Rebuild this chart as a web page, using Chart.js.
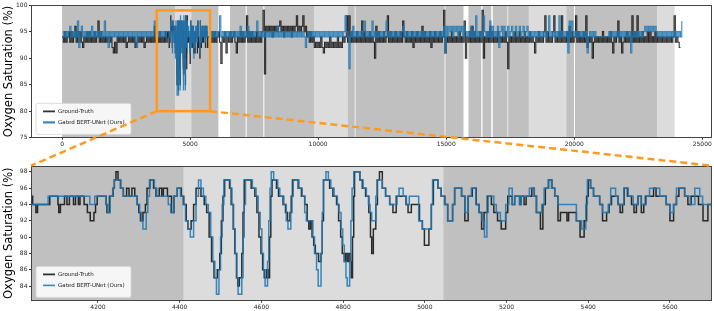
<!DOCTYPE html>
<html><head><meta charset="utf-8">
<script src="https://cdn.jsdelivr.net/npm/chart.js@4.4.1/dist/chart.umd.min.js"></script>
<style>
html,body{margin:0;padding:0;background:#fff;}
#wrap{position:relative;width:714px;height:311px;overflow:hidden;background:#fff;}
canvas{position:absolute;left:0;}
#top{top:0;width:714px;height:152px;}
#bottom{top:152px;width:714px;height:159px;}
#overlay{top:0;width:714px;height:311px;pointer-events:none;}
</style></head><body>
<div id="wrap">
<canvas id="top" width="714" height="152"></canvas>
<canvas id="bottom" width="714" height="159"></canvas>
<canvas id="overlay" width="714" height="311"></canvas>
</div>
<script>
// ---------------- DATA ----------------
const seriesLabels = ['Ground-Truth', 'Gated BERT-UNet (Ours)'];
const yAxisLabel = 'Oxygen Saturation (%)';

// overview (top panel) samples, one every 50 time units
const overviewStep = 50;
const overviewAStart = 0;
const gtOverviewA = [94,93,95,93,94,95,93,95,93,94,96,93,95,93,95,93,92,94,93,95,
93,95,93,94,93,95,93,94,97,93,95,93,94,93,94,93,94,93,94,92,
91,93,91,94,93,94,93,94,93,94,92,93,94,93,94,93,94,92,93,94,
93,94,93,94,92,93,94,93,94,93,94,93,96,93,94,93,95,93,94,93,94];
const predOverviewA = [94,95,94,95,94,95,96,94,95,94,95,94,97,92,95,96,94,95,94,95,
94,95,94,96,94,95,94,95,94,95,94,95,94,97,94,95,92,95,94,95,
94,95,94,95,94,95,94,95,94,95,94,95,94,95,94,95,94,95,92,95,
94,95,94,95,94,95,94,95,94,95,94,95,97,94,95,94,95,94,95,94,95];
const overviewBStart = 5750;
const gtOverviewB = [
94,93,95,93,95,93,94,95,93,89,94,93,95,91,94,93,95,93,94,95,
93,91,94,93,95,93,95,93,94,98,93,95,93,95,93,94,93,95,93,94,
93,95,99,87,96,95,96,95,96,94,96,95,96,95,96,97,95,96,94,96,
95,96,95,96,94,96,95,96,98,95,96,95,96,98,95,96,94,95,93,95,
93,94,92,93,92,93,92,94,92,91,93,92,93,92,94,92,93,92,93,92,
94,92,93,92,94,93,94,98,93,98,93,95,93,94,93,95,93,94,93,97,
93,95,93,94,93,95,93,94,93,90,96,93,95,93,94,93,95,93,94,98,
93,95,93,94,93,95,93,94,93,95,93,97,94,93,95,93,94,93,95,92,
94,93,95,93,94,93,96,93,95,93,94,93,95,92,94,93,95,93,94,93,
95,93,94,99,91,94,93,94,93,95,93,94,93,94,93,95,93,94,93,97,
90,94,93,95,93,96,93,95,93,94,93,95,93,99,90,94,93,95,93,96,
93,95,93,94,93,95,93,94,93,94,93,95,93,88,94,93,94,93,95,93,
94,93,95,93,94,93,95,93,94,93,95,93,94,93,91,94,93,95,93,94,
93,95,98,93,95,93,94,93,95,98,93,94,93,95,93,98,93,94,93,95,
93,96,93,95,93,94,98,93,95,93,94,93,95,93,98,92,94,93,94,90,
93,94,93,94,93,94,93,95,93,94,93,94,93,95,93,91,94,93,94,97,
93,94,91,93,94,93,95,93,94,93,98,93,95,93,98,93,94,93,95,93,
94,93,95,93,95,93,94,93,95,93,94,93,94,93,94,93,94,93,94,93,
94,93,94,98,93,94,93,92,92];
const predOverviewB = [
94,95,94,95,94,95,94,95,98,94,95,94,95,94,95,94,95,94,95,94,
95,94,95,94,96,94,95,94,95,94,96,94,95,94,95,94,95,97,94,95,
94,95,94,95,94,95,94,95,94,95,94,95,94,96,94,95,94,95,94,95,
94,95,94,95,94,95,94,95,94,95,94,95,94,95,94,92,94,95,94,95,
94,95,94,95,94,95,94,95,94,95,94,95,94,95,94,95,94,95,94,95,
94,95,94,95,94,95,98,95,94,88,95,94,96,94,95,94,95,94,95,94,
95,97,94,95,94,95,94,97,94,95,94,95,94,95,94,95,94,95,97,94,
95,94,95,94,95,94,95,94,95,94,95,96,94,95,94,95,94,95,94,95,
94,95,94,95,94,95,94,95,94,95,94,95,94,95,94,95,94,95,94,95,
94,95,94,96,91,96,94,96,95,96,94,96,95,96,94,96,95,96,94,96,
95,94,95,94,96,94,95,94,98,94,95,94,95,94,98,95,94,95,94,97,
94,96,94,95,94,96,92,95,96,94,96,95,94,96,94,95,96,94,95,96,
94,95,96,94,95,96,94,95,96,94,95,94,95,94,95,94,95,94,95,94,
95,94,95,94,95,98,94,95,94,95,94,95,94,98,94,95,94,95,94,95,
91,97,94,97,95,94,95,94,95,94,95,94,95,94,95,91,94,95,94,95,
94,95,94,94,94,94,94,94,94,94,94,94,95,94,95,94,95,94,95,94,
95,94,95,94,95,94,95,94,95,91,94,95,94,95,94,95,94,95,94,95,
96,95,96,95,96,95,96,95,96,95,94,95,94,95,94,95,94,95,94,95,
94,95,94,95,94,95,94,95,94,97];

// detailed change points (bottom panel window)
const gtZoomTime = [4030,4040,4048,4052,4082,4102,4104,4108,4118,4124,4130,4140,4145,4152,4156,4166,4174,4181,4190,4194,4198,4220,4222,4228,4237,4240,4244,4249,4255,4262,4270,4276,4283,4290,4296,4300,4304,4310,4316,4320,4327,4336,4342,4350,4356,4360,4370,4380,4386,4394,4404,4410,4416,4420,4428,4434,4440,4452,4460,4466,4472,4478,4484,4492,4498,4502,4506,4510,4522,4526,4531,4535,4539,4542,4546,4552,4555,4558,4575,4584,4589,4594,4599,4603,4607,4613,4616,4620,4623,4626,4637,4642,4653,4659,4664,4670,4673,4676,4690,4698,4706,4712,4716,4720,4724,4728,4732,4740,4746,4749,4752,4767,4775,4784,4789,4794,4798,4803,4806,4810,4814,4818,4820,4823,4826,4828,4841,4847,4855,4863,4867,4870,4874,4880,4884,4889,4896,4904,4914,4922,4930,4954,4959,4967,4987,4994,4999,5010,5016,5021,5032,5040,5049,5056,5068,5073,5090,5098,5106,5116,5126,5133,5139,5145,5153,5163,5169,5178,5187,5198,5203,5214,5220,5232,5236,5243,5248,5262,5268,5273,5283,5289,5295,5303,5311,5318,5326,5332,5348,5352,5371,5380,5390,5396,5400,5406,5413,5428,5435,5445,5451,5457,5473,5478,5484,5488,5496,5506,5512,5518,5522,5530,5536,5540,5560,5566,5591,5600,5609,5616,5622,5636,5644,5652,5670,5681,5693,5705];
const gtZoomValue = [95,94,93,94,95,94,93,94,95,94,95,94,95,94,95,94,93,92,93,94,95,94,93,95,96,97,98,97,96,95,96,95,96,95,94,93,92,93,94,96,97,96,95,96,95,96,95,93,95,96,95,94,92,91,92,94,96,95,94,93,90,87,85,86,88,92,95,97,96,94,91,88,85,84,85,88,93,97,96,95,93,90,88,86,85,86,85,90,95,97,96,95,94,93,92,93,95,97,96,95,94,92,91,92,90,89,88,87,88,92,97,96,95,94,92,90,88,87,88,87,88,87,85,90,95,98,97,96,95,93,90,88,91,94,97,98,96,95,94,93,95,94,93,94,92,91,89,91,94,97,96,95,94,92,94,96,95,92,95,96,94,93,91,93,95,94,93,92,91,93,95,94,95,94,95,94,95,96,95,93,91,94,96,97,96,95,92,93,92,93,92,90,92,95,97,96,95,94,92,93,94,95,94,93,94,96,95,94,93,94,95,93,94,95,96,95,94,92,94,95,96,95,94,95,94,92,94,94];
const predZoomTime = [4030,4078,4180,4192,4220,4224,4230,4236,4240,4256,4262,4296,4302,4306,4310,4318,4322,4326,4338,4344,4372,4378,4386,4394,4402,4408,4414,4420,4426,4434,4440,4446,4452,4458,4464,4470,4476,4481,4486,4490,4496,4500,4504,4508,4524,4528,4532,4536,4540,4543,4552,4555,4558,4561,4578,4587,4592,4597,4601,4605,4609,4615,4618,4621,4624,4630,4640,4645,4655,4661,4665,4672,4675,4678,4692,4700,4706,4710,4726,4730,4735,4739,4746,4749,4752,4758,4764,4770,4778,4786,4790,4795,4799,4803,4807,4810,4816,4819,4822,4826,4841,4849,4857,4862,4866,4870,4880,4883,4896,4904,4914,4932,4937,4947,4955,4962,4985,4994,5016,5019,5032,5040,5048,5056,5068,5073,5090,5098,5106,5114,5125,5133,5140,5146,5152,5155,5169,5175,5185,5198,5206,5214,5220,5232,5236,5256,5268,5274,5286,5292,5302,5310,5318,5326,5371,5384,5394,5398,5405,5413,5428,5435,5449,5455,5467,5473,5487,5498,5510,5522,5530,5542,5550,5575,5591,5600,5609,5616,5636,5650,5661,5673,5680,5705];
const predZoomValue = [94,95,94,95,94,93,95,96,97,96,95,94,93,92,91,93,95,97,96,95,94,93,95,96,95,94,92,91,90,92,95,97,96,95,94,93,90,87,85,83,86,90,94,97,96,94,91,88,85,83,85,90,94,97,96,95,93,91,88,86,84,87,92,96,98,97,96,95,94,92,91,93,95,97,96,95,93,92,90,88,86,84,88,93,97,98,97,96,95,94,93,91,89,87,85,84,87,92,96,98,97,96,95,94,93,92,95,97,96,95,94,95,96,95,94,95,92,91,94,97,96,95,94,92,94,96,95,93,95,96,94,93,92,90,93,95,94,93,92,94,96,94,95,94,95,96,95,93,94,96,97,96,95,94,92,91,94,97,96,95,94,93,94,96,95,94,96,95,94,95,94,95,96,95,94,93,94,96,95,94,96,95,94,94];

// background segments (time ranges)
const spanStart = [0,4410,5045,6560,7210,7900,9840,11060,11080,11150,11430,11480,14940,14980,15870,16420,16820,17380,17420,18230,19690,20030,23250];
const spanEnd   = [4410,5045,6105,7170,7860,9840,11060,11080,11150,11430,11480,14940,14980,15675,16370,16760,17380,17420,18230,19690,19990,23250,23920];
const spanKind  = ['dark','light','dark','dark','dark','dark','light','dark','light','dark','light','dark','light','dark','dark','dark','dark','light','dark','light','dark','dark','light'];

// axes
const topXRange = [-1212, 25380];
const topYRange = [75, 100];
const topXTicks = [0, 5000, 10000, 15000, 20000, 25000];
const topYTicks = [75, 80, 85, 90, 95, 100];
const zoomXRange = [4036, 5703];
const zoomYRange = [82.2, 98.75];
const zoomXTicks = [4200, 4400, 4600, 4800, 5000, 5200, 5400, 5600];
const zoomYTicks = [84, 86, 88, 90, 92, 94, 96, 98];
const zoomBoxX = [3700, 5780];
const zoomBoxY = [80, 99];

// ---------------- STYLE ----------------
const spanColors = {dark: '#c0c0c0', light: '#dcdcdc'};
const gtColor = 'rgba(0,0,0,0.8)';
const predColor = 'rgba(31,119,180,0.88)';
const orange = '#ff9a1f';
const FONT = 'DejaVu Sans';

// ---------------- BUILD ----------------
function overviewPoints(startA, arrA, zt, zv, startB, arrB) {
  const pts = [];
  arrA.forEach((v, i) => pts.push({x: startA + i * overviewStep, y: v}));
  zt.forEach((t, i) => pts.push({x: t, y: zv[i]}));
  arrB.forEach((v, i) => pts.push({x: startB + i * overviewStep, y: v}));
  return pts;
}
const gtTop = overviewPoints(overviewAStart, gtOverviewA, gtZoomTime, gtZoomValue, overviewBStart, gtOverviewB);
const predTop = overviewPoints(overviewAStart, predOverviewA, predZoomTime, predZoomValue, overviewBStart, predOverviewB);
const gtZoom = gtZoomTime.map((t, i) => ({x: t, y: gtZoomValue[i]}));
const predZoom = predZoomTime.map((t, i) => ({x: t, y: predZoomValue[i]}));

const spansPlugin = {
  id: 'spans',
  beforeDatasetsDraw(chart) {
    const {ctx, chartArea: a, scales: {x}} = chart;
    ctx.save();
    ctx.beginPath(); ctx.rect(a.left, a.top, a.right - a.left, a.bottom - a.top); ctx.clip();
    for (let i = 0; i < spanStart.length; i++) {
      const x0 = x.getPixelForValue(spanStart[i]);
      const x1 = x.getPixelForValue(spanEnd[i]);
      ctx.fillStyle = spanColors[spanKind[i]];
      ctx.fillRect(x0, a.top, x1 - x0, a.bottom - a.top);
    }
    ctx.restore();
  },
  afterDatasetsDraw(chart) {
    const {ctx, chartArea: a} = chart;
    ctx.save();
    ctx.strokeStyle = '#444';
    ctx.lineWidth = 1;
    ctx.strokeRect(Math.round(a.left) + 0.5, Math.round(a.top) + 0.5, Math.round(a.right - a.left) - 1, Math.round(a.bottom - a.top) - 1);
    // legend
    const bw = 95, bh = 31;
    const bx = a.left + 5, by = a.bottom - 3.3 - bh;
    ctx.fillStyle = 'rgba(255,255,255,0.85)';
    ctx.strokeStyle = '#d6d6d6';
    ctx.lineWidth = 0.8;
    ctx.beginPath();
    if (ctx.roundRect) ctx.roundRect(bx, by, bw, bh, 2); else ctx.rect(bx, by, bw, bh);
    ctx.fill(); ctx.stroke();
    ctx.font = '5.5px "' + FONT + '"';
    ctx.textBaseline = 'middle';
    chart.data.datasets.forEach((ds, i) => {
      const yy = by + 8 + i * 11;
      ctx.strokeStyle = ds.borderColor;
      ctx.lineWidth = ds.legendWidth;
      ctx.beginPath(); ctx.moveTo(bx + 7, yy); ctx.lineTo(bx + 19, yy); ctx.stroke();
      ctx.fillStyle = '#222';
      ctx.fillText(ds.label, bx + 22, yy);
    });
    ctx.restore();
  }
};

function makeOptions(xr, yr, xt, yt, xh, pad) {
  return {
    responsive: false, animation: false, events: [], devicePixelRatio: 1,
    layout: {padding: pad},
    plugins: {legend: {display: false}, tooltip: {enabled: false}},
    elements: {point: {radius: 0}, line: {tension: 0}},
    scales: {
      x: {
        type: 'linear', min: xr[0], max: xr[1],
        afterBuildTicks: s => { s.ticks = xt.map(v => ({value: v})); },
        afterFit: s => { s.height = xh; },
        ticks: {autoSkip: false, maxRotation: 0, padding: 1.5, color: '#222', font: {family: FONT, size: 6}, callback: v => String(v)},
        grid: {display: true, drawOnChartArea: false, drawTicks: true, tickLength: 2, color: '#333'},
        border: {display: false}
      },
      y: {
        type: 'linear', min: yr[0], max: yr[1],
        afterBuildTicks: s => { s.ticks = yt.map(v => ({value: v})); },
        afterFit: s => { s.width = 31; },
        ticks: {autoSkip: false, padding: 1.5, color: '#222', font: {family: FONT, size: 6}, callback: v => String(v)},
        grid: {display: true, drawOnChartArea: false, drawTicks: true, tickLength: 2, color: '#333'},
        border: {display: false},
        title: {display: true, text: yAxisLabel, color: '#000', font: {family: FONT, size: 11.5}, padding: {top: 2.5, bottom: 0}}
      }
    }
  };
}

// prediction is drawn above the ground truth (lower order = on top)
const topChart = new Chart(document.getElementById('top'), {
  type: 'line',
  data: {datasets: [
    {label: seriesLabels[0], data: gtTop, borderColor: gtColor, borderWidth: 1.1, stepped: true, legendWidth: 1.8, order: 2},
    {label: seriesLabels[1], data: predTop, borderColor: predColor, borderWidth: 1.1, stepped: true, legendWidth: 2.2, order: 1}
  ]},
  options: makeOptions(topXRange, topYRange, topXTicks, topYTicks, 14.3, {left: 0, right: 2, top: 3.3, bottom: 0}),
  plugins: [spansPlugin]
});

const bottomChart = new Chart(document.getElementById('bottom'), {
  type: 'line',
  data: {datasets: [
    {label: seriesLabels[0], data: gtZoom, borderColor: gtColor, borderWidth: 1.5, stepped: true, legendWidth: 1.8, order: 2},
    {label: seriesLabels[1], data: predZoom, borderColor: predColor, borderWidth: 1.5, stepped: true, legendWidth: 1.6, order: 1}
  ]},
  options: makeOptions(zoomXRange, zoomYRange, zoomXTicks, zoomYTicks, 10.3, {left: 0, right: 2, top: 13.7, bottom: 0}),
  plugins: [spansPlugin]
});

// connector overlay
(function () {
  const ov = document.getElementById('overlay').getContext('2d');
  const xs = topChart.scales.x, ys = topChart.scales.y;
  const bx0 = xs.getPixelForValue(zoomBoxX[0]), bx1 = xs.getPixelForValue(zoomBoxX[1]);
  const by0 = ys.getPixelForValue(zoomBoxY[0]), by1 = ys.getPixelForValue(zoomBoxY[1]);
  const off = 152;
  const ca = bottomChart.chartArea;
  ov.strokeStyle = orange;
  ov.lineWidth = 2.5;
  ov.setLineDash([7, 4]);
  ov.beginPath();
  ov.moveTo(bx0, by0); ov.lineTo(ca.left, ca.top + off);
  ov.moveTo(bx1, by0); ov.lineTo(ca.right, ca.top + off);
  ov.stroke();
  ov.setLineDash([]);
  ov.strokeRect(bx0, by1, bx1 - bx0, by0 - by1);
})();
</script>
</body></html>
